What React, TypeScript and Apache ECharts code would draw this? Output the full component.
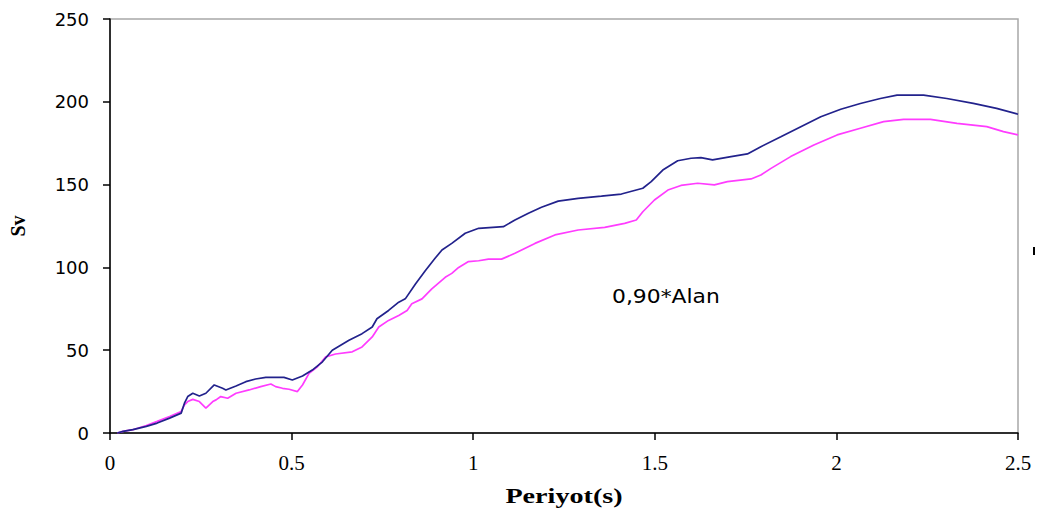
import React, { useEffect, useRef } from "react";
import * as echarts from "echarts";

const blueT = [0.02, 0.036, 0.063, 0.1, 0.13, 0.164, 0.196, 0.205, 0.214, 0.228, 0.246, 0.264, 0.287, 0.31, 0.319, 0.347, 0.374, 0.401, 0.429, 0.479, 0.502, 0.53, 0.557, 0.585, 0.612, 0.658, 0.694, 0.722, 0.735, 0.767, 0.795, 0.813, 0.841, 0.868, 0.895, 0.914, 0.941, 0.978, 1.015, 1.083, 1.115, 1.152, 1.188, 1.234, 1.289, 1.353, 1.408, 1.467, 1.49, 1.522, 1.563, 1.6, 1.627, 1.659, 1.71, 1.755, 1.792, 1.847, 1.902, 1.957, 2.012, 2.066, 2.121, 2.167, 2.24, 2.304, 2.377, 2.441, 2.5];
const blueV = [0, 1, 2, 4, 6, 9, 12, 18, 22, 24, 22.3, 24, 29, 27, 26, 28.4, 31, 32.6, 33.6, 33.6, 32, 34.4, 38, 43, 50, 56, 60, 64, 69, 74, 79, 81, 90, 98, 105.5, 110.5, 114.5, 120.6, 123.6, 124.6, 128.6, 132.7, 136.3, 140, 141.7, 143, 144.3, 147.8, 151.8, 158.8, 164.4, 165.9, 166.3, 164.9, 166.9, 168.5, 172.9, 178.9, 185, 191, 195.5, 199, 202, 204, 204, 202, 199, 196, 192.5];

const pinkT = [0.02, 0.036, 0.063, 0.1, 0.13, 0.164, 0.196, 0.205, 0.214, 0.228, 0.246, 0.264, 0.283, 0.292, 0.305, 0.324, 0.347, 0.383, 0.415, 0.443, 0.456, 0.475, 0.493, 0.516, 0.53, 0.548, 0.571, 0.594, 0.621, 0.667, 0.694, 0.722, 0.74, 0.767, 0.795, 0.818, 0.831, 0.859, 0.886, 0.923, 0.941, 0.96, 0.987, 1.015, 1.042, 1.078, 1.115, 1.17, 1.225, 1.289, 1.362, 1.417, 1.449, 1.467, 1.499, 1.536, 1.572, 1.618, 1.664, 1.7, 1.765, 1.792, 1.82, 1.874, 1.938, 2.002, 2.066, 2.13, 2.185, 2.259, 2.332, 2.414, 2.46, 2.5];
const pinkV = [0, 1, 2, 4.5, 7, 10, 13, 17, 19, 20.3, 19, 15, 19, 20, 22, 21, 24, 26, 28, 29.6, 28, 27, 26.4, 25, 29, 36, 40, 46, 47.7, 49, 52, 58, 64, 68, 71, 74, 78, 81, 87, 94, 96.4, 100, 103.5, 104, 105, 105, 108.5, 114.5, 119.6, 122.6, 124.2, 126.6, 128.6, 133.6, 140.7, 146.7, 149.5, 150.8, 149.8, 151.8, 153.4, 155.8, 159.8, 166.9, 173.9, 180, 184, 188, 189.4, 189.4, 187, 185, 182, 180];

const xTicks = [0, 0.5, 1, 1.5, 2, 2.5];
const yTicks = [0, 50, 100, 150, 200, 250];
const xTitle = "Periyot(s)";
const yTitle = "Sv";
const annotation = "0,90*Alan";

export default function App() {
  const ref = useRef<HTMLDivElement>(null);
  useEffect(() => {
    if (!ref.current) return;
    const chart = echarts.init(ref.current, null, { renderer: "svg" });
    chart.setOption({
      animation: false,
      backgroundColor: "#ffffff",
      grid: {
        left: 107,
        right: 21,
        top: 19,
        bottom: 77,
        show: true,
        borderColor: "#a8a8a8",
        borderWidth: 1.5,
        backgroundColor: "transparent",
      },
      xAxis: {
        type: "value",
        min: xTicks[0],
        max: xTicks[xTicks.length - 1],
        interval: 0.5,
        axisLine: { lineStyle: { color: "#000", width: 1.5 } },
        axisTick: { show: true, length: 7, lineStyle: { color: "#000", width: 1.5 } },
        axisLabel: { fontFamily: "Liberation Serif", fontSize: 21, color: "#000", margin: 19 },
        splitLine: { show: false },
      },
      yAxis: {
        type: "value",
        min: yTicks[0],
        max: yTicks[yTicks.length - 1],
        interval: 50,
        name: yTitle,
        nameLocation: "middle",
        nameRotate: 90,
        nameGap: 82,
        nameTextStyle: { fontFamily: "Liberation Serif", fontWeight: "bold", fontSize: 20, color: "#000" },
        axisLine: { show: true, lineStyle: { color: "#000", width: 1.5 } },
        axisTick: { show: true, length: 7, lineStyle: { color: "#000", width: 1.5 } },
        axisLabel: { fontFamily: "DejaVu Sans", fontSize: 18, color: "#000", margin: 21 },
        splitLine: { show: false },
      },
      graphic: [
        {
          type: "text",
          x: 564,
          y: 495,
          scaleX: 1.28,
          style: {
            text: xTitle,
            fontFamily: "Liberation Serif",
            fontWeight: "bold",
            fontSize: 22,
            fill: "#000",
            align: "center",
            verticalAlign: "middle",
          },
        },
        {
          type: "text",
          left: 612,
          top: 287,
          scaleX: 1.15,
          style: { text: annotation, fontFamily: "DejaVu Sans", fontSize: 19, fill: "#000" },
        },
        {
          type: "rect",
          shape: { x: 1033, y: 247, width: 2, height: 8 },
          style: { fill: "#000" },
        },
      ],
      series: [
        {
          type: "line",
          data: blueT.map((t, i) => [t, blueV[i]]),
          showSymbol: false,
          lineStyle: { color: "#22228c", width: 1.7 },
          z: 3,
        },
        {
          type: "line",
          data: pinkT.map((t, i) => [t, pinkV[i]]),
          showSymbol: false,
          lineStyle: { color: "#ff3cff", width: 1.7 },
          z: 2,
        },
      ],
    });
    return () => chart.dispose();
  }, []);
  return <div ref={ref} style={{ position: "fixed", left: 0, top: 0, width: 1039, height: 510, background: "#fff" }} />;
}
